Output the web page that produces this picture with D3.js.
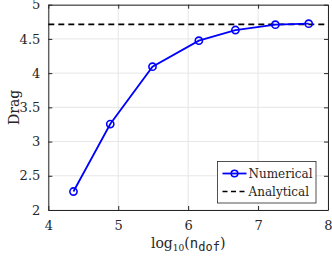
<!DOCTYPE html>
<html>
<head>
<meta charset="utf-8">
<script src="https://cdn.jsdelivr.net/npm/d3@7"></script>
<style>
  body { margin: 0; background: #fff; }
</style>
</head>
<body>
<div id="chart"></div>
<script>
// Data
const logDof = [4.36, 4.886, 5.49, 6.153, 6.676, 7.247, 7.724];
const drag = [2.27, 3.256, 4.094, 4.474, 4.63, 4.708, 4.722];
const analytical = 3 * Math.PI / 2;
const xTicks = [4, 5, 6, 7, 8];
const yTicks = [2, 2.5, 3, 3.5, 4, 4.5, 5];

const SERIF = "DejaVu Serif";
const MONO = "DejaVu Sans Mono";

const W = 332, H = 258;
const margin = { top: 4.7, right: 4, bottom: 48, left: 48.3 };
const iw = W - margin.left - margin.right,
  ih = H - margin.top - margin.bottom;

const svg = d3.select("#chart").append("svg")
  .attr("width", W)
  .attr("height", H)
  .style("font-family", SERIF);

const g = svg.append("g")
  .attr("transform", `translate(${margin.left},${margin.top})`);

const x = d3.scaleLinear().domain([4, 8]).range([0, iw]);
const y = d3.scaleLinear().domain([2, 5]).range([ih, 0]);
const fmt = d3.format("~g");

// grid
g.append("g").selectAll("line").data(xTicks).enter().append("line")
  .attr("x1", d => x(d)).attr("x2", d => x(d))
  .attr("y1", 0).attr("y2", ih)
  .attr("stroke", "#e6e6e6").attr("stroke-width", 1);
g.append("g").selectAll("line").data(yTicks).enter().append("line")
  .attr("y1", d => y(d)).attr("y2", d => y(d))
  .attr("x1", 0).attr("x2", iw)
  .attr("stroke", "#e6e6e6").attr("stroke-width", 1);

// axes with inward ticks
const xAxis = g.append("g").attr("transform", `translate(0,${ih})`)
  .call(d3.axisBottom(x).tickValues(xTicks).tickFormat(fmt).tickSizeInner(-4).tickSizeOuter(0).tickPadding(11));
const xAxisTop = g.append("g")
  .call(d3.axisTop(x).tickValues(xTicks).tickSizeInner(-4).tickSizeOuter(0).tickFormat(""));
const yAxis = g.append("g")
  .call(d3.axisLeft(y).tickValues(yTicks).tickFormat(fmt).tickSizeInner(-4).tickSizeOuter(0).tickPadding(8));
const yAxisRight = g.append("g").attr("transform", `translate(${iw},0)`)
  .call(d3.axisRight(y).tickValues(yTicks).tickSizeInner(-4).tickSizeOuter(0).tickFormat(""));

[xAxis, xAxisTop, yAxis, yAxisRight].forEach(a => {
  a.attr("font-family", null);
  a.select(".domain").attr("stroke", "#262626").attr("stroke-width", 1);
  a.selectAll(".tick line").attr("stroke", "#262626");
  a.selectAll("text").style("font-family", SERIF).attr("font-size", 13).attr("fill", "#262626");
});

// analytical dashed line
g.append("line")
  .attr("x1", 0).attr("x2", iw)
  .attr("y1", y(analytical)).attr("y2", y(analytical))
  .attr("stroke", "#000").attr("stroke-width", 1.6)
  .attr("stroke-dasharray", "6,4");

// numerical line
const pts = logDof.map((d, i) => [d, drag[i]]);
g.append("path")
  .datum(pts)
  .attr("fill", "none")
  .attr("stroke", "#0000ff")
  .attr("stroke-width", 1.8)
  .attr("d", d3.line().x(d => x(d[0])).y(d => y(d[1])));

g.selectAll("circle.pt").data(pts).enter().append("circle")
  .attr("class", "pt")
  .attr("cx", d => x(d[0])).attr("cy", d => y(d[1]))
  .attr("r", 3.6)
  .attr("fill", "none").attr("stroke", "#0000ff").attr("stroke-width", 1.6);

// legend
const lg = svg.append("g").attr("transform", "translate(217.5,161.5)");
lg.append("rect").attr("width", 98.5).attr("height", 41.5)
  .attr("fill", "#fff").attr("stroke", "#262626").attr("stroke-width", 0.8);
lg.append("line").attr("x1", 5).attr("x2", 29).attr("y1", 12).attr("y2", 12)
  .attr("stroke", "#0000ff").attr("stroke-width", 1.8);
lg.append("circle").attr("cx", 17).attr("cy", 12).attr("r", 3.3)
  .attr("fill", "none").attr("stroke", "#0000ff").attr("stroke-width", 1.6);
lg.append("text").attr("x", 31).attr("y", 16.5).attr("font-size", 12).attr("fill", "#262626")
  .style("font-family", SERIF).text("Numerical");
lg.append("line").attr("x1", 5).attr("x2", 29).attr("y1", 30).attr("y2", 30)
  .attr("stroke", "#000").attr("stroke-width", 1.6).attr("stroke-dasharray", "5,3.5");
lg.append("text").attr("x", 31).attr("y", 34.5).attr("font-size", 12).attr("fill", "#262626")
  .style("font-family", SERIF).text("Analytical");

// axis labels
const xl = svg.append("text")
  .attr("x", margin.left + iw / 2).attr("y", 248)
  .attr("text-anchor", "middle").attr("font-size", 14).attr("fill", "#262626")
  .style("font-family", SERIF);
xl.append("tspan").text("log");
xl.append("tspan").attr("font-size", 9).attr("dy", 3).text("10");
xl.append("tspan").attr("dy", -3).text("(");
xl.append("tspan").style("font-family", MONO).text("n");
xl.append("tspan").style("font-family", MONO)
  .attr("font-size", 12).attr("dy", 3).text("dof");
xl.append("tspan").attr("dy", -3).text(")");

svg.append("text")
  .attr("transform", `translate(19,${margin.top + ih / 2}) rotate(-90)`)
  .attr("text-anchor", "middle").attr("font-size", 14).attr("fill", "#262626")
  .style("font-family", SERIF).text("Drag");
</script>
</body>
</html>
